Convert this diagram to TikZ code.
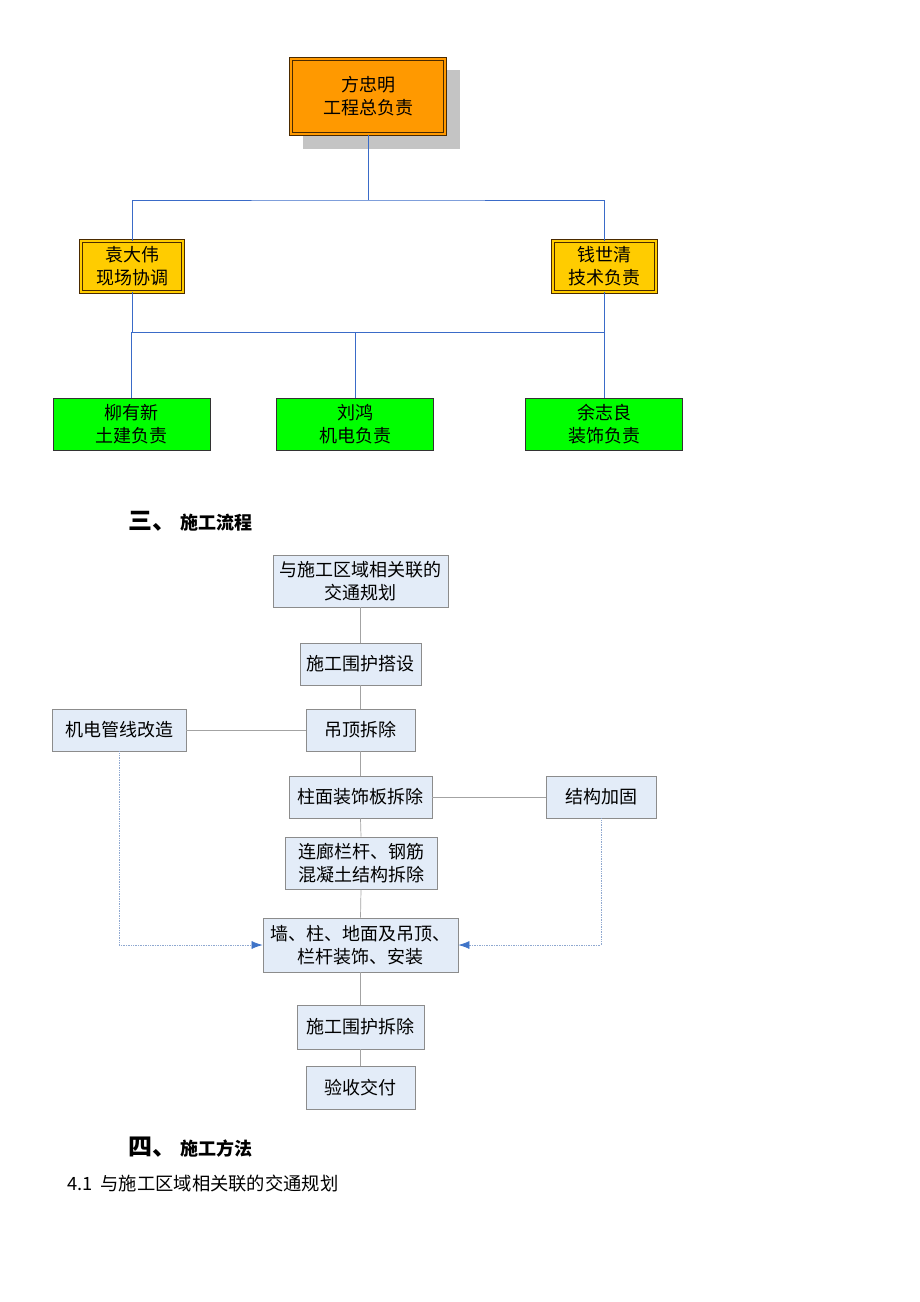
\documentclass[tikz,border=0pt]{standalone}
\usepackage{fontspec}
\newfontfamily\cjk{Noto Sans CJK SC}
\usetikzlibrary{arrows.meta}
\definecolor{orgorange}{HTML}{FF9900}
\definecolor{orggold}{HTML}{FFCC00}
\definecolor{orggreen}{HTML}{00FF00}
\definecolor{orgline}{HTML}{3A6BC8}
\definecolor{darkbrown}{HTML}{4A2A00}
\definecolor{flowfill}{HTML}{E3ECF8}
\definecolor{flowborder}{HTML}{8C8C8C}
\definecolor{sideline}{HTML}{8FA8D0}
\definecolor{arrowblue}{HTML}{3F74C8}
\definecolor{shadowgray}{HTML}{C4C4C4}
\tikzset{
  x=1pt,y=-1pt,
  every node/.style={font=\cjk\fontsize{18}{23}\selectfont, align=center, inner sep=0pt},
  topbox/.style={fill=orgorange, draw=darkbrown, double=orgorange, double distance=2pt, line width=1pt},
  midbox/.style={fill=orggold, draw=darkbrown, double=orggold, double distance=1.6pt, line width=0.9pt},
  greenbox/.style={fill=orggreen, draw=black!80, line width=0.8pt},
  orgconn/.style={draw=orgline, line width=0.8pt},
  flowbox/.style={fill=flowfill, draw=flowborder, line width=0.8pt},
  flowconn/.style={draw=flowborder!80, line width=0.7pt},
  sideconn/.style={draw=sideline, line width=0.7pt, densely dotted, -{Latex[length=11pt,width=8pt,color=arrowblue]}},
}
\begin{document}
\begin{tikzpicture}
\useasboundingbox (0,0) rectangle (920,1302);
% shadow
\fill[shadowgray] (303,70) rectangle (460,149);
% org chart
\node[topbox, minimum width=154pt, minimum height=75pt] (top) at (368,96.5) {方忠明\\工程总负责};
\node[midbox, minimum width=102pt, minimum height=51pt] (yuan) at (132,266.5) {袁大伟\\现场协调};
\node[midbox, minimum width=103pt, minimum height=51pt] (qian) at (604.5,266.5) {钱世清\\技术负责};
\node[greenbox, minimum width=157pt, minimum height=52pt] (g1) at (131.5,424) {柳有新\\土建负责};
\node[greenbox, minimum width=157pt, minimum height=52pt] (g2) at (355,424) {刘鸿\\机电负责};
\node[greenbox, minimum width=157pt, minimum height=52pt] (g3) at (604,424) {余志良\\装饰负责};
\coordinate (j1) at (368,200);
\coordinate (j2) at (355,332);
\draw[orgconn] (top.south) -- (j1);
\draw[orgconn] (yuan.north) |- (j1) -| (qian.north);
\draw[orgconn] (yuan.south) |- (j2);
\draw[orgconn] (qian.south) |- (j2);
\draw[orgconn] (g1.north) -- (g1.north |- j2);
\draw[orgconn] (g2.north) -- (j2);
\draw[orgconn] (g3.north) -- (g3.north |- j2);
% heading 3
\node[anchor=base west, font=\cjk\bfseries\fontsize{24}{24}\selectfont] (h3a) at (128,529) {三、};
\node[anchor=base west, font=\cjk\bfseries\fontsize{18}{20}\selectfont] (h3b) at (180,529) {施工流程};
% flow chart
\node[flowbox, minimum width=175pt, minimum height=52pt] (b1) at (360.5,581) {与施工区域相关联的\\交通规划};
\node[flowbox, minimum width=121pt, minimum height=42pt] (b2) at (360.5,664) {施工围护搭设};
\node[flowbox, minimum width=109pt, minimum height=42pt] (b3) at (360.5,730) {吊顶拆除};
\node[flowbox, minimum width=134pt, minimum height=42pt] (b4) at (119,730) {机电管线改造};
\node[flowbox, minimum width=143pt, minimum height=42pt] (b5) at (360.5,797) {柱面装饰板拆除};
\node[flowbox, minimum width=110pt, minimum height=42pt] (b6) at (601,797) {结构加固};
\node[flowbox, minimum width=152pt, minimum height=52pt] (b7) at (361,863) {连廊栏杆、钢筋\\混凝土结构拆除};
\node[flowbox, minimum width=195pt, minimum height=54pt] (b8) at (360.5,945) {墙、柱、地面及吊顶、\\栏杆装饰、安装};
\node[flowbox, minimum width=127pt, minimum height=44pt] (b9) at (360.5,1027) {施工围护拆除};
\node[flowbox, minimum width=109pt, minimum height=43pt] (b10) at (360.5,1087.5) {验收交付};
\draw[flowconn] (b1.south) -- (b2.north);
\draw[flowconn] (b2.south) -- (b3.north);
\draw[flowconn] (b3.south) -- (b5.north);
\draw[flowconn] (b5.south) -- (b7.north);
\draw[flowconn] (b7.south) -- (b8.north);
\draw[flowconn] (b8.south) -- (b9.north);
\draw[flowconn] (b9.south) -- (b10.north);
\draw[flowconn] (b4.east) -- (b3.west);
\draw[flowconn] (b5.east) -- (b6.west);
\draw[sideconn] (b4.south) |- (b8.west);
\draw[sideconn] (b6.south) |- (b8.east);
% heading 4
\node[anchor=base west, font=\cjk\bfseries\fontsize{24}{24}\selectfont] (h4a) at (128,1155) {四、};
\node[anchor=base west, font=\cjk\bfseries\fontsize{18}{20}\selectfont] (h4b) at (180,1155) {施工方法};
\node[anchor=base west, font=\cjk\fontsize{18.3}{20}\selectfont] (s41) at (67,1190) {4.1\hspace{8pt}与施工区域相关联的交通规划};
\end{tikzpicture}
\end{document}
